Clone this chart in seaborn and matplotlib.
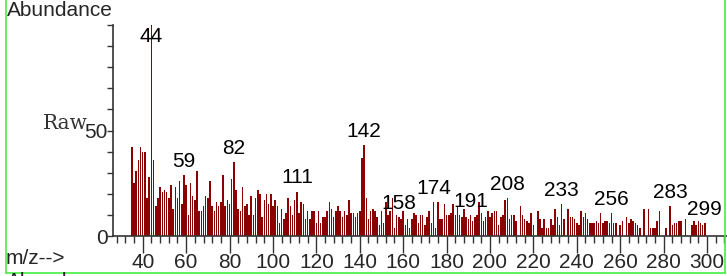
import numpy as np
import matplotlib
matplotlib.use('Agg')
import matplotlib.pyplot as plt
from matplotlib.lines import Line2D
from matplotlib.ticker import MultipleLocator
import seaborn as sns

# =============================================================================
# DATA  (m/z 35..300)
mz = list(range(35, 301))
abundance = [
    42, 25, 31, 36, 42, 40, 40, 18, 28, 100,   # 35-44
    36, 14, 18, 23, 21, 22, 21, 18, 24, 13,    # 45-54
    23, 18, 26, 15, 29, 24, 10, 25, 19, 17,    # 55-64
    31, 12, 12, 14, 19, 18, 26, 14, 12, 16,    # 65-74
    14, 16, 29, 14, 17, 15, 27, 35, 22, 13,    # 75-84
    12, 23, 14, 15, 10, 19, 10, 18, 22, 20,    # 85-94
    9, 17, 20, 15, 20, 14, 17, 14, 6, 13,      # 95-104
    8, 11, 18, 14, 10, 17, 21, 11, 16, 15,     # 105-114
    8, 12, 8, 12, 12, 6, 12, 6, 9, 9,          # 115-124
    12, 16, 13, 9, 12, 14, 12, 9, 12, 10,      # 125-134
    17, 11, 11, 9, 11, 12, 37, 43, 18, 8,      # 135-144
    12, 13, 12, 9, 5, 12, 6, 16, 10, 12,       # 145-154
    18, 4, 10, 9, 8, 12, 5, 8, 4, 8,           # 155-164
    11, 10, 6, 10, 10, 5, 9, 12, 6, 16,        # 165-174
    4, 16, 8, 8, 15, 10, 10, 11, 15, 10,       # 175-184
    14, 10, 9, 13, 9, 8, 10, 7, 9, 10,         # 185-194
    16, 11, 7, 9, 12, 9, 11, 12, 12, 5,        # 195-204
    9, 10, 17, 18, 8, 10, 10, 7, 0, 14,        # 205-214
    10, 8, 7, 6, 11, 5, 0, 12, 8, 4,           # 215-224
    8, 4, 4, 8, 5, 13, 9, 5, 15, 8,            # 225-234
    0, 13, 9, 9, 8, 6, 5, 12, 9, 11,           # 235-244
    8, 6, 6, 6, 7, 6, 11, 6, 7, 7,             # 245-254
    6, 11, 6, 6, 0, 5, 7, 0, 9, 6,             # 255-264
    8, 7, 6, 5, 4, 0, 13, 0, 13, 4,            # 265-274
    4, 4, 7, 12, 0, 0, 4, 0, 14, 5,            # 275-284
    6, 6, 7, 7, 0, 8, 0, 0, 5, 7,              # 285-294
    5, 7, 6, 5, 6, 0,                          # 295-300
]
labelled_peaks = [44, 59, 82, 111, 142, 158, 174, 191, 208, 233, 256, 283, 299]

# =============================================================================
sns.set_style('ticks')
plt.rcParams['font.family'] = ['Liberation Sans', 'DejaVu Sans']
fs = 15

W, H = 727, 276
fig = plt.figure(figsize=(W/100, H/100), dpi=100)
ax = fig.add_axes([113/W, 40/H, 614/W, 211/H])

bar_col = '#8b0000'
sns.barplot(x=mz, y=abundance, native_scale=True, color=bar_col,
            saturation=1, width=0.7, errorbar=None, linewidth=0, ax=ax)

ax.set_xlim(26.3, 309.2)
ax.set_ylim(0, 100)
ax.set_xlabel('')
ax.set_ylabel('')
sns.despine(ax=ax, top=True, right=True)
for s in ['left', 'bottom']:
    ax.spines[s].set_color('#333333')
    ax.spines[s].set_linewidth(1.2)

ax.set_xticks(np.arange(40, 301, 20))
ax.xaxis.set_minor_locator(MultipleLocator(4))
ax.set_yticks([0, 50])
ax.yaxis.set_minor_locator(MultipleLocator(10))
ax.tick_params(axis='x', which='major', length=12, width=1, pad=0,
               labelsize=fs, color='#333333')
ax.tick_params(axis='x', which='minor', length=5, width=1, color='#333333')
ax.tick_params(axis='y', which='major', length=4, width=1, pad=0,
               labelsize=fs, color='#333333')
ax.tick_params(axis='y', which='minor', length=4, width=1, color='#333333')

# peak labels
ab = dict(zip(mz, abundance))
for m in labelled_peaks:
    y = min(ab[m] + 2, 90)
    ax.text(m, y, str(m), ha='center', va='bottom', fontsize=fs,
            color='black')

# header / axis captions
fig.text(7/W, 1 - 11/H, 'Abundance', ha='left', va='center', fontsize=fs)
fig.text(88/W, 1 - 129/H, 'Raw', ha='right', va='baseline', fontsize=14.5,
         family=['DejaVu Serif'], color='#333333')
fig.text(6/W, 1 - 258/H, 'm/z-->', ha='left', va='center', fontsize=fs)
# cut-off caption of the next panel below the frame
fig.text(7/W, 1 - 272/H, 'Abundance', ha='left', va='top', fontsize=fs)

# green frame
g = '#44ee44'
fig.add_artist(Line2D([5.5/W, 5.5/W], [3.5/H, 1], transform=fig.transFigure,
                      color=g, lw=1.2))
fig.add_artist(Line2D([725/W, 725/W], [3.5/H, 1], transform=fig.transFigure,
                      color=g, lw=1.2))
fig.add_artist(Line2D([5.5/W, 725/W], [3.5/H, 3.5/H], transform=fig.transFigure,
                      color=g, lw=1.2))

fig.savefig('out.png', dpi=100)
